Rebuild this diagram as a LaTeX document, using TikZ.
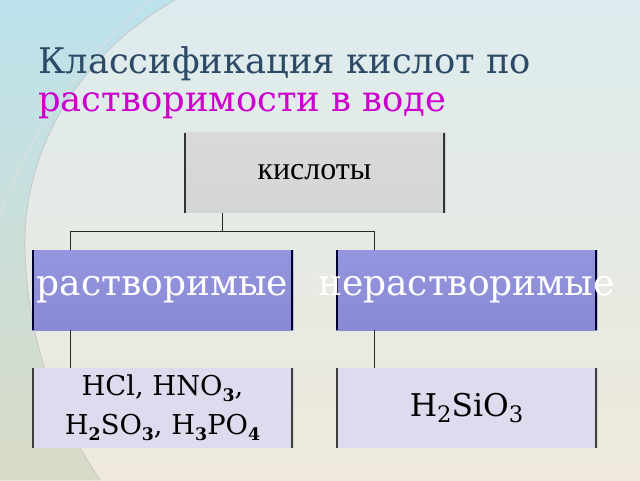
\documentclass[tikz,border=0pt]{standalone}
\usepackage{fontspec}
\setmainfont{DejaVu Serif}
\newfontfamily\timesf{Liberation Serif}
\usetikzlibrary{calc}
\definecolor{titleblue}{HTML}{2C4A66}
\definecolor{titlemag}{HTML}{CC00CC}
\definecolor{grayfill}{HTML}{D3D5D6}
\definecolor{bluetop}{HTML}{9496DF}
\definecolor{bluebot}{HTML}{8A89D3}
\definecolor{lavfill}{HTML}{DEDBF0}
\definecolor{bgtop}{HTML}{DDEBEE}
\definecolor{bgmid}{HTML}{F5F8F2}
\definecolor{bgbot}{HTML}{EEE9DB}
\definecolor{outtop}{HTML}{BDE2EC}
\definecolor{outmid}{HTML}{DCE8E2}
\definecolor{outbot}{HTML}{D9DBC6}
\newcommand{\bsub}[1]{\raisebox{-4.5pt}{\fontsize{13}{13}\selectfont\bfseries #1}}
\newcommand{\nsub}[1]{\raisebox{-5pt}{\fontsize{17}{17}\selectfont #1}}
\begin{document}
\begin{tikzpicture}[x=0.75pt,y=-0.75pt,
  box/.style={minimum width=195.75pt, minimum height=60pt, inner sep=0pt, draw=none},
  bars/.style={path picture={\draw[line width=3.2pt, draw=#1]
     (path picture bounding box.north west) -- (path picture bounding box.south west)
     (path picture bounding box.north east) -- (path picture bounding box.south east);}},
  graybox/.style={box, top color=grayfill!90!white, bottom color=grayfill, bars=black!80},
  bluebox/.style={box, top color=bluetop, bottom color=bluebot, text=white,
     font=\fontsize{27}{32}\selectfont, bars=blue!20!black},
  lavbox/.style={box, fill=lavfill, fill opacity=0.93, text opacity=1, text=black, bars=black!75},
  conn/.style={line width=0.7pt, draw=black!85},
  arcline/.style={line width=0.6pt, draw=black!22}]
\useasboundingbox (0,0) rectangle (640,480);
% background
\shade[top color=bgtop, middle color=bgmid, bottom color=bgbot] (0,0) rectangle (640,480);
\shade[top color=outtop, middle color=outmid, bottom color=outbot]
  (0,0) -- (175,0) .. controls (70,60) and (22,160) .. (25,250)
  .. controls (28,350) and (60,420) .. (100,480) -- (0,480) -- cycle;
\draw[arcline] (175,0) .. controls (70,60) and (22,160) .. (25,250)
  .. controls (28,350) and (60,420) .. (100,480);
\draw[arcline, draw=black!12] (150,0) .. controls (85,55) and (25,140) .. (0,215);
% title
\node[anchor=base west, inner sep=0pt, text=titleblue, font=\fontsize{26.5}{30}\selectfont] (t1) at (38,73.5) {Классификация кислот по};
\node[anchor=base west, inner sep=0pt, text=titlemag, font=\fontsize{26.5}{30}\selectfont] (t2) at (38,111.5) {растворимости в воде};
% boxes
\node[graybox, font=\timesf\fontsize{24}{28}\selectfont] (k) at (314.5,172.5) {\raisebox{-2pt}{кислоты}};
\node[bluebox] (r) at (162.5,290) {\raisebox{-4pt}{растворимые}};
\node[bluebox] (n) at (466.5,290) {\makebox[0pt][c]{\raisebox{-4pt}{нерастворимые}}};
\node[lavbox, align=center, font=\fontsize{20.5}{29}\selectfont] (a) at (162.5,408)
  {HCl, HNO\bsub{3},\\H\bsub{2}SO\bsub{3}, H\bsub{3}PO\bsub{4}};
\node[lavbox, font=\fontsize{23.5}{28}\selectfont] (b) at (466.5,408) {H\nsub{2}SiO\nsub{3}};
% connectors
\path (k.south west) ++(39,0) coordinate (kb);
\path (r.north west) ++(39,0) coordinate (rt);
\path (n.north west) ++(39,0) coordinate (nt);
\path (r.south west) ++(39,0) coordinate (rb);
\path (n.south west) ++(39,0) coordinate (nb);
\path (a.north west) ++(39,0) coordinate (at);
\path (b.north west) ++(39,0) coordinate (bt);
\draw[conn] (kb) -- ++(0,19) coordinate (j) -| (rt);
\draw[conn] (j) -| (nt);
\draw[conn] (rb) -- (at);
\draw[conn] (nb) -- (bt);
\end{tikzpicture}
\end{document}
